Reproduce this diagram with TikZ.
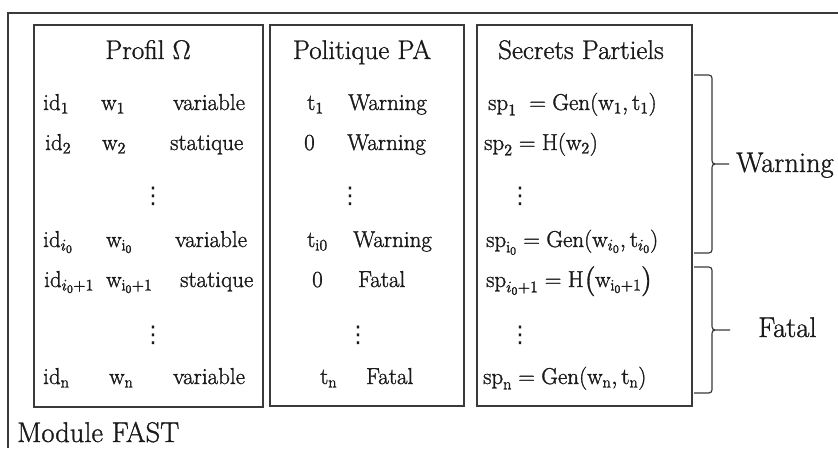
\documentclass[tikz,border=0pt]{standalone}
\usepackage{fix-cm}
\usepackage{amsmath}
\usepackage{fontspec}
\newfontfamily\dotsfont{DejaVu Sans}
\definecolor{frame}{HTML}{3A3A3A}
\definecolor{ink}{HTML}{1A1A1A}
% slightly heavier glyphs: fill and stroke the outlines
\newcommand\heavyink{\special{pdf:code 2 Tr 0.3 w}}
\newcommand\cellfont{\fontsize{23}{26}\selectfont\heavyink}
\newcommand\headfont{\fontsize{27}{30}\selectfont\heavyink}
\newcommand\sidefont{\fontsize{28.5}{31}\selectfont\heavyink}
\tikzset{
  panel/.style={draw=frame, line width=1.5pt},
  cell/.style={anchor=base west, inner sep=0pt, text=ink, font=\cellfont},
  head/.style={anchor=base, inner sep=0pt, text=ink, font=\headfont},
  dotcol/.style={anchor=center, inner sep=0pt, text=ink, font=\dotsfont\fontsize{23}{26}\selectfont},
  side/.style={anchor=base west, inner sep=0pt, text=ink, font=\sidefont},
  brace/.style={draw=frame, line width=1.2pt},
}
\begin{document}
\begin{tikzpicture}[x=1pt, y=-1pt]
\useasboundingbox (0,0) rectangle (838,448);
\fill[white] (0,0) rectangle (838,448);

% outer module frame (continues past the right and bottom edges)
\draw[panel] (838,13) -- (8,13) -- (8,448);

% the three panels
\draw[panel] (34,25) rectangle (263,407);
\draw[panel] (270,25) rectangle (464,406);
\draw[panel] (477,25) rectangle (692,406);

% headings
\node[head] (hprof) at (148,59) {Profil $\Omega$};
\node[head] (hpol)  at (362,59) {Politique PA};
\node[head] (hsec)  at (581,59) {Secrets Partiels};

% --- Profil Omega ---
\node[cell] (id1) at (43,110) {$\mathrm{id}_1$};
\node[cell] (w1)  at (101,110) {$\mathrm{w}_1$};
\node[cell] (m1)  at (173,110) {variable};
\node[cell] (id2) at (45,150) {$\mathrm{id}_2$};
\node[cell] (w2)  at (102,150) {$\mathrm{w}_2$};
\node[cell] (m2)  at (170,150) {statique};
\node[dotcol] (pd1) at (153,196) {⋮};
\node[cell] (idi) at (43,247) {$\mathrm{id}_{i_0}$};
\node[cell] (wi)  at (106,247) {$\mathrm{w}_{\mathrm{i}_0}$};
\node[cell] (mi)  at (175,247) {variable};
\node[cell] (idj) at (44,287) {$\mathrm{id}_{i_0+1}$};
\node[cell] (wj)  at (106,287) {$\mathrm{w}_{\mathrm{i}_0+1}$};
\node[cell] (mj)  at (180,287) {statique};
\node[dotcol] (pd2) at (153,335) {⋮};
\node[cell] (idn) at (43,384) {$\mathrm{id}_\mathrm{n}$};
\node[cell] (wn)  at (109,384) {$\mathrm{w}_\mathrm{n}$};
\node[cell] (mn)  at (173,384) {variable};

% --- Politique PA ---
\node[cell] (t1)  at (307,110) {$\mathrm{t}_1$};
\node[cell] (a1)  at (348,110) {Warning};
\node[cell] (t2)  at (304,150) {$0$};
\node[cell] (a2)  at (347,150) {Warning};
\node[dotcol] (qd1) at (350,196) {⋮};
\node[cell] (ti)  at (307,247) {$\mathrm{t}_{\mathrm{i}0}$};
\node[cell] (ai)  at (353,247) {Warning};
\node[cell] (tj)  at (312,287) {$0$};
\node[cell] (aj)  at (358,287) {Fatal};
\node[dotcol] (qd2) at (358,335) {⋮};
\node[cell] (tn)  at (320,384) {$\mathrm{t}_\mathrm{n}$};
\node[cell] (an)  at (366,384) {Fatal};

% --- Secrets Partiels ---
\node[cell] (s1) at (488,110) {$\mathrm{sp}_1\;=\mathrm{Gen}(\mathrm{w}_1,\mathrm{t}_1)$};
\node[cell] (s2) at (484,150) {$\mathrm{sp}_2=\mathrm{H}(\mathrm{w}_2)$};
\node[dotcol] (sd1) at (520,196) {⋮};
\node[cell] (si) at (486,247) {$\mathrm{sp}_{\mathrm{i}_0}=\mathrm{Gen}(\mathrm{w}_{i_0},\mathrm{t}_{i_0})$};
\node[cell] (sj) at (486,287) {$\mathrm{sp}_{i_0+1}=\mathrm{H}\bigl(\mathrm{w}_{\mathrm{i}_0+1}\bigr)$};
\node[dotcol] (sd2) at (520,335) {⋮};
\node[cell] (sn) at (483,384) {$\mathrm{sp}_\mathrm{n}=\mathrm{Gen}(\mathrm{w}_\mathrm{n},\mathrm{t}_\mathrm{n})$};

% braces grouping the secrets
\draw[brace] (694,75) -- (705,75) .. controls (712,75) .. (712,82)
  -- (712,157) .. controls (712,164) .. (719,164) -- (729,164)
  (719,164) .. controls (712,164) .. (712,171)
  -- (712,246) .. controls (712,253) .. (705,253) -- (694,253);
\draw[brace] (694,267) -- (705,267) .. controls (712,267) .. (712,274)
  -- (712,323) .. controls (712,330) .. (719,330) -- (730,330)
  (719,330) .. controls (712,330) .. (712,337)
  -- (712,386) .. controls (712,393) .. (705,393) -- (694,393);

\node[side] (warn)  at (736,172) {Warning};
\node[side] (fatal) at (758,337) {Fatal};

\node[side] (module) at (17,442) {Module FAST};
\end{tikzpicture}
\end{document}
